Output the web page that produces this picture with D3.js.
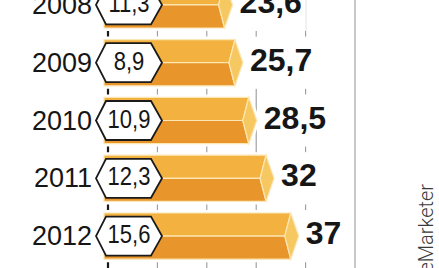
<!DOCTYPE html>
<html>
<head>
<meta charset="utf-8">
<script src="https://cdn.jsdelivr.net/npm/d3@7"></script>
<style>
  html, body { margin: 0; padding: 0; background: #fff; }
  svg { display: block; }
</style>
</head>
<body>
<div id="chart"></div>
<script>
// Values
const years = ['2008', '2009', '2010', '2011', '2012'];
const totalValues = [23.6, 25.7, 28.5, 32, 37];   // bar length, bold label
const hexValues = [11.3, 8.9, 10.9, 12.3, 15.6];  // number inside the hexagon
const xTicks = [0, 10, 20, 30, 40, 50];
const sourceLabel = 'Źródło: eMarketer';

const width = 439;
const height = 268;

// comma as decimal separator
const fmt = v => String(v).replace('.', ',');

const svg = d3.select('#chart')
  .append('svg')
    .attr('width', width)
    .attr('height', height);

const xScale = d3.scaleLinear()
  .domain([0, 50])
  .range([108, 355]);

const yScale = d3.scaleBand()
  .domain(years)
  .range([-24, 265])
  .paddingInner(0.2)
  .paddingOuter(0.1);

const rows = years.map((year, i) => ({
  year: year,
  total: totalValues[i],
  hex: hexValues[i]
}));

const bh = yScale.bandwidth();
const bTop = d => yScale(d.year);
const bMid = d => yScale(d.year) + bh / 2;
const bBot = d => yScale(d.year) + bh;
const x0 = xScale(0) - 4;
const tip = 8;    // how far the end cap sticks out
const inset = 6;  // how far the middle edge of the cap goes back

// Grid lines (the zero line is dark)
svg.append('g')
  .attr('class', 'grid')
  .selectAll('line')
  .data(xTicks)
  .enter().append('line')
    .attr('x1', d => xScale(d))
    .attr('x2', d => xScale(d))
    .attr('y1', 0)
    .attr('y2', height)
    .style('stroke', d => d === 0 ? '#1a1a1a' : '#9a9a9a')
    .style('stroke-width', d => d === 0 ? 2.2 : 1.1);

// Value labels get a white box so the grid stops around them
const labels = svg.append('g').attr('class', 'labels');
const labelText = labels.selectAll('text')
  .data(rows)
  .enter().append('text')
    .attr('x', d => xScale(d.total) + tip + 7)
    .attr('y', d => bMid(d) + 8)
    .style('font-family', '"Liberation Sans", Arial, sans-serif')
    .style('font-weight', 'bold')
    .style('font-size', '32px')
    .style('fill', '#161616')
    .text(d => fmt(d.total));

labelText.each(function(d) {
  const w = this.getComputedTextLength();
  labels.insert('rect', 'text')
    .attr('x', xScale(d.total) + tip + 3)
    .attr('y', bTop(d) - 3)
    .attr('width', w + 8)
    .attr('height', bh + 6)
    .style('fill', '#fff');
});

// Bars drawn as a flat hexagonal prism
const bars = svg.append('g').attr('class', 'bars')
  .selectAll('g')
  .data(rows)
  .enter().append('g');

const pts = arr => arr.map(p => p.join(',')).join(' ');

// white halo so the grid breaks a little before each bar
bars.append('polygon')
  .attr('points', d => {
    const v = xScale(d.total);
    return pts([[x0, bTop(d)], [v, bTop(d)], [v + tip, bMid(d)], [v, bBot(d)], [x0, bBot(d)]]);
  })
  .style('fill', '#fff')
  .style('stroke', '#fff')
  .style('stroke-width', 6);

bars.append('polygon')
  .attr('points', d => {
    const v = xScale(d.total);
    return pts([[x0, bTop(d)], [v, bTop(d)], [v - inset, bMid(d)], [x0, bMid(d)]]);
  })
  .style('fill', '#f3b23f')
  .style('stroke', '#fce6b4')
  .style('stroke-width', 1.2);

bars.append('polygon')
  .attr('points', d => {
    const v = xScale(d.total);
    return pts([[x0, bMid(d)], [v - inset, bMid(d)], [v, bBot(d)], [x0, bBot(d)]]);
  })
  .style('fill', '#e8952b')
  .style('stroke', '#fce6b4')
  .style('stroke-width', 1.2);

bars.append('polygon')
  .attr('points', d => {
    const v = xScale(d.total);
    return pts([[v, bTop(d)], [v + tip, bMid(d)], [v, bBot(d)], [v - inset, bMid(d)]]);
  })
  .style('fill', '#f6c862')
  .style('stroke', '#fce6b4')
  .style('stroke-width', 1.2);

// Hexagon labels at the start of each bar
const hx = xScale(0) + 21;
const hexes = svg.append('g').attr('class', 'hexes')
  .selectAll('g')
  .data(rows)
  .enter().append('g')
    .attr('transform', d => 'translate(' + hx + ',' + bMid(d) + ')');

hexes.append('polygon')
  .attr('points', pts([[-33, 0], [-23, -19.5], [22, -19.5], [33, 0], [22, 19.5], [-23, 19.5]]))
  .style('fill', '#fff')
  .style('stroke', '#1a1a1a')
  .style('stroke-width', 1.8);

// the numbers in the hexagons are a narrow face, so squeeze them a bit
hexes.append('text')
  .attr('transform', 'translate(0,7) scale(0.88,1)')
  .style('text-anchor', 'middle')
  .style('font-family', '"Liberation Sans", Arial, sans-serif')
  .style('font-size', '25px')
  .style('fill', '#161616')
  .text(d => fmt(d.hex));

// Year labels on the left
svg.append('g').attr('class', 'years')
  .selectAll('text')
  .data(rows)
  .enter().append('text')
    .attr('x', 92)
    .attr('y', d => bMid(d) + 9)
    .style('text-anchor', 'end')
    .style('font-family', '"Liberation Sans", Arial, sans-serif')
    .style('font-size', '27px')
    .style('fill', '#161616')
    .text(d => d.year);

// Source, rotated on the right edge
svg.append('text')
  .attr('transform', 'translate(433,184) rotate(-90)')
  .style('text-anchor', 'end')
  .style('font-family', 'Roboto, "Liberation Sans", sans-serif')
  .style('font-weight', 300)
  .style('font-size', '20px')
  .style('fill', '#3a3a3a')
  .text(sourceLabel);
</script>
</body>
</html>
